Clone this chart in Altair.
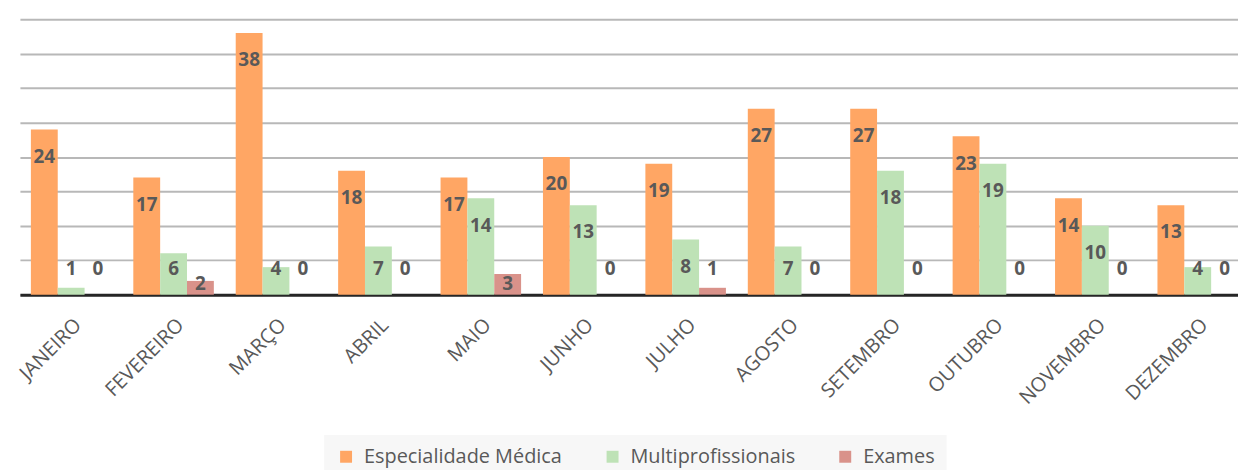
import altair as alt
import pandas as pd

months = ["JANEIRO", "FEVEREIRO", "MARÇO", "ABRIL", "MAIO", "JUNHO",
          "JULHO", "AGOSTO", "SETEMBRO", "OUTUBRO", "NOVEMBRO", "DEZEMBRO"]
series = ["Especialidade Médica", "Multiprofissionais", "Exames"]
especialidade = [24, 17, 38, 18, 17, 20, 19, 27, 27, 23, 14, 13]
multiprof = [1, 6, 4, 7, 14, 13, 8, 7, 18, 19, 10, 4]
exames = [0, 2, 0, 0, 3, 0, 1, 0, 0, 0, 0, 0]
colors = ["#FFA664", "#BEE2B6", "#D9928A"]
grid_values = [0, 5, 10, 15, 20, 25, 30, 35, 40]

rows = []
for name, vals in zip(series, [especialidade, multiprof, exames]):
    for m, v in zip(months, vals):
        rows.append({"mes": m, "serie": name, "valor": v})
df = pd.DataFrame(rows)

FONT = "Open Sans"
TXT = "#595959"

x_scale = alt.Scale(paddingInner=0.2136, paddingOuter=0.0535, align=1)
x_axis = alt.Axis(labelAngle=-45, labelFont=FONT, labelFontSize=20,
                  labelColor=TXT, labelPadding=20, ticks=False,
                  domainColor="#262626", domainWidth=3, title=None)
y_scale = alt.Scale(domain=[0, 40], nice=False)
y_axis = alt.Axis(values=grid_values, labels=False, ticks=False,
                  domain=False, gridColor="#b8b8b8", gridWidth=2, title=None)
xoff = alt.XOffset("serie:N", sort=series)

bars = alt.Chart(df).mark_bar().encode(
    x=alt.X("mes:N", sort=months, scale=x_scale, axis=x_axis),
    xOffset=xoff,
    y=alt.Y("valor:Q", scale=y_scale, axis=y_axis),
    color=alt.Color("serie:N", sort=series,
                    scale=alt.Scale(domain=series, range=colors),
                    legend=alt.Legend(title=None, orient="none",
                                      legendX=306, legendY=418,
                                      direction="horizontal",
                                      symbolType="square", symbolSize=144,
                                      symbolStrokeWidth=0,
                                      labelFont=FONT, labelFontSize=20,
                                      labelColor=TXT, labelOffset=8,
                                      labelLimit=0,
                                      columnPadding=40, padding=12,
                                      fillColor="#f7f7f7")),
)

labels = alt.Chart(df).transform_calculate(
    laby="datum.valor >= 2 && datum.valor <= 3 ? 1.6 : max(datum.valor - 3.97, 3.75)"
).mark_text(font=FONT, fontSize=19, fontWeight="bold", color=TXT,
            baseline="middle", align="center").encode(
    x=alt.X("mes:N", sort=months, scale=x_scale, axis=x_axis),
    xOffset=xoff,
    y=alt.Y("laby:Q", scale=y_scale, axis=y_axis),
    text=alt.Text("valor:Q"),
)

chart = alt.layer(bars, labels).properties(
    width=1225, height=277,
    autosize=alt.AutoSizeParams(type="none"),
    padding={"left": 12, "top": 10, "right": 0, "bottom": 175},
).configure_view(stroke=None)

chart.save("out.html", embed_options={"renderer": "svg", "actions": False})
